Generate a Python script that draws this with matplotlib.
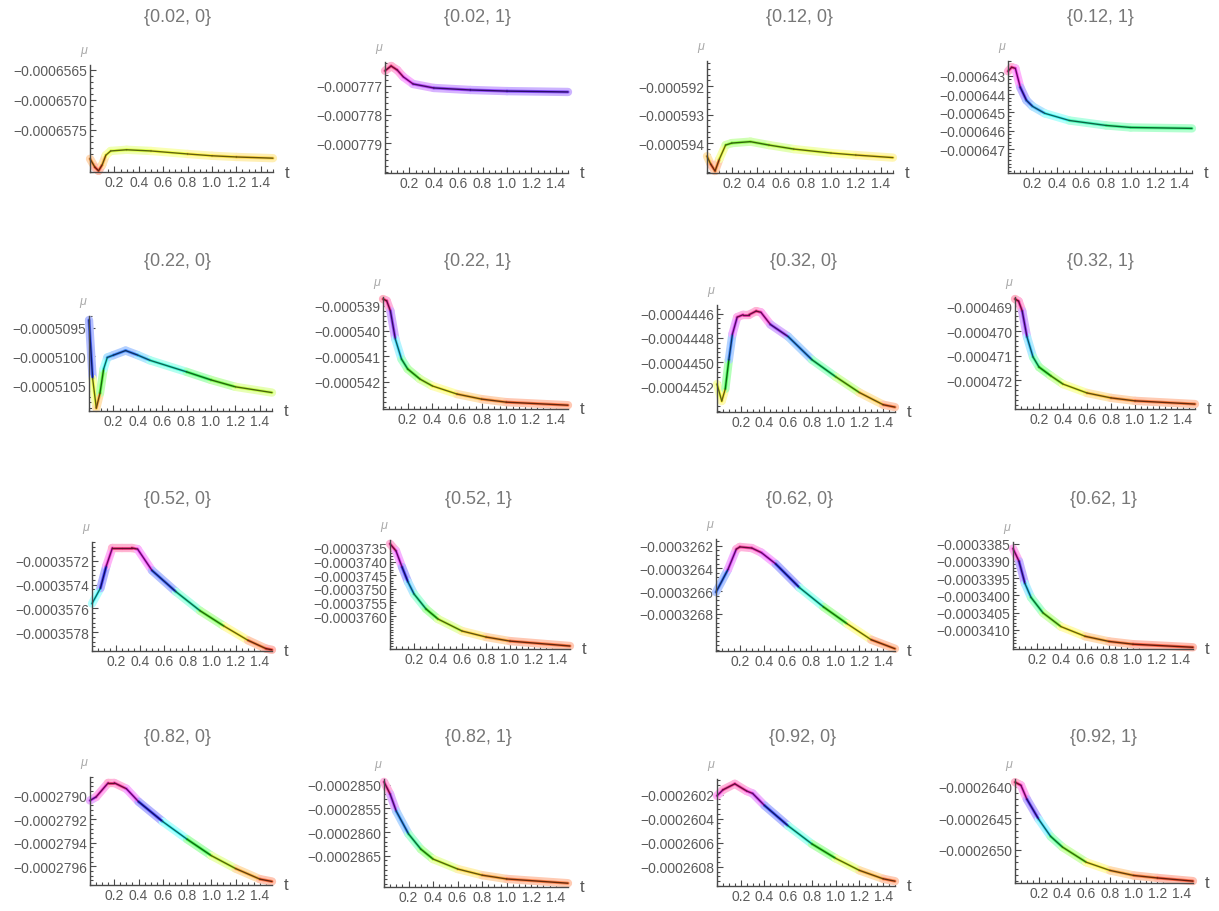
import numpy as np
import matplotlib
matplotlib.use("Agg")
import matplotlib.pyplot as plt
from matplotlib.collections import LineCollection
from matplotlib.ticker import FixedLocator, FixedFormatter, MultipleLocator
from matplotlib.colors import Normalize

plt.rcParams['font.family'] = ['Liberation Sans', 'DejaVu Sans']

# ---------------- data ----------------
titles = ["{0.02, 0}", "{0.02, 1}", "{0.12, 0}", "{0.12, 1}",
          "{0.22, 0}", "{0.22, 1}", "{0.32, 0}", "{0.32, 1}",
          "{0.52, 0}", "{0.52, 1}", "{0.62, 0}", "{0.62, 1}",
          "{0.82, 0}", "{0.82, 1}", "{0.92, 0}", "{0.92, 1}"]

t_a = [0, 0.04, 0.07, 0.1, 0.13, 0.17, 0.3, 0.5, 0.8, 1.0, 1.2, 1.5]
mu_a = [-0.00065798, -0.00065812, -0.00065818, -0.00065808, -0.00065792, -0.00065785,
        -0.00065783, -0.00065785, -0.0006579, -0.00065793, -0.00065795, -0.00065797]

t_b = [0, 0.05, 0.1, 0.15, 0.23, 0.4, 0.7, 1.0, 1.5]
mu_b = [-0.00077647, -0.0007763, -0.00077644, -0.00077668, -0.00077693, -0.00077707,
        -0.00077714, -0.00077718, -0.00077721]

t_c = [0, 0.03, 0.065, 0.1, 0.15, 0.2, 0.35, 0.5, 0.7, 1.0, 1.2, 1.5]
mu_c = [-0.00059446, -0.00059474, -0.00059498, -0.00059456, -0.00059407, -0.000594,
        -0.00059395, -0.00059407, -0.00059421, -0.00059435, -0.00059442, -0.00059451]

t_d = [0, 0.03, 0.06, 0.1, 0.15, 0.2, 0.3, 0.5, 0.8, 1.0, 1.5]
mu_d = [-0.00064276, -0.00064254, -0.0006426, -0.00064363, -0.00064434, -0.00064467,
        -0.00064505, -0.00064544, -0.00064571, -0.00064582, -0.00064587]

t_e = [0, 0.03, 0.06, 0.09, 0.12, 0.15, 0.2, 0.3, 0.4, 0.5, 0.8, 1.0, 1.2, 1.5]
mu_e = [-0.00050937, -0.00051039, -0.0005109, -0.00051064, -0.00051022, -0.00051002,
        -0.00050998, -0.0005099, -0.00050998, -0.00051007, -0.00051027, -0.00051041,
        -0.00051053, -0.00051063]

t_f = [0, 0.03, 0.06, 0.1, 0.15, 0.2, 0.3, 0.4, 0.6, 0.8, 1.0, 1.5]
mu_f = [-0.00053874, -0.00053881, -0.00053921, -0.00054032, -0.00054111, -0.0005415,
        -0.0005419, -0.00054217, -0.00054249, -0.00054269, -0.00054281, -0.00054293]

t_g = [0, 0.04, 0.07, 0.1, 0.13, 0.17, 0.22, 0.27, 0.33, 0.37, 0.45, 0.6, 0.8, 1.0,
       1.2, 1.4, 1.5]
mu_g = [-0.00044518, -0.00044532, -0.00044522, -0.00044498, -0.00044477, -0.00044463,
        -0.00044461, -0.00044461, -0.00044458, -0.00044459, -0.00044469, -0.00044479,
        -0.00044498, -0.00044512, -0.00044525, -0.00044535, -0.00044537]

t_h = [0, 0.03, 0.06, 0.1, 0.15, 0.2, 0.3, 0.4, 0.6, 0.8, 1.0, 1.5]
mu_h = [-0.0004687, -0.00046879, -0.00046919, -0.00047024, -0.00047105, -0.00047146,
        -0.00047182, -0.00047215, -0.00047251, -0.00047271, -0.00047283, -0.00047296]

t_i = [0, 0.07, 0.12, 0.17, 0.25, 0.33, 0.38, 0.5, 0.7, 0.9, 1.1, 1.3, 1.45, 1.5]
mu_i = [-0.00035756, -0.00035743, -0.00035724, -0.00035709, -0.00035709, -0.00035709,
        -0.0003571, -0.00035728, -0.00035746, -0.00035762, -0.00035775, -0.00035787,
        -0.00035794, -0.00035795]

t_j = [0, 0.05, 0.1, 0.15, 0.2, 0.3, 0.4, 0.6, 0.8, 1.0, 1.5]
mu_j = [-0.00037335, -0.00037361, -0.0003742, -0.00037475, -0.00037519, -0.00037574,
        -0.00037611, -0.00037655, -0.00037677, -0.00037692, -0.0003771]

t_k = [0, 0.1, 0.17, 0.2, 0.3, 0.38, 0.5, 0.7, 0.9, 1.1, 1.3, 1.5]
mu_k = [-0.00032661, -0.00032641, -0.00032623, -0.00032621, -0.00032622, -0.00032626,
        -0.00032636, -0.00032657, -0.00032674, -0.00032689, -0.00032703, -0.00032711]

t_l = [0, 0.05, 0.1, 0.15, 0.25, 0.4, 0.6, 0.8, 1.0, 1.5]
mu_l = [-0.00033864, -0.00033901, -0.00033966, -0.00034006, -0.00034051, -0.00034091,
        -0.00034119, -0.00034134, -0.00034142, -0.00034151]

t_m = [0, 0.05, 0.15, 0.2, 0.3, 0.4, 0.6, 0.8, 1.0, 1.2, 1.4, 1.5]
mu_m = [-0.00027904, -0.00027901, -0.00027889, -0.00027889, -0.00027894, -0.00027905,
        -0.00027922, -0.00027937, -0.00027951, -0.00027962, -0.00027971, -0.00027973]

t_n = [0, 0.05, 0.1, 0.2, 0.3, 0.4, 0.6, 0.8, 1.0, 1.5]
mu_n = [-0.00028494, -0.0002852, -0.00028556, -0.00028604, -0.00028636, -0.00028657,
        -0.00028678, -0.00028691, -0.00028699, -0.00028708]

t_o = [0, 0.05, 0.15, 0.25, 0.3, 0.4, 0.6, 0.8, 1.0, 1.2, 1.4, 1.5]
mu_o = [-0.00026021, -0.00026016, -0.00026011, -0.00026017, -0.00026019, -0.00026029,
        -0.00026046, -0.00026061, -0.00026073, -0.00026083, -0.0002609, -0.00026092]

t_p = [0, 0.05, 0.1, 0.2, 0.3, 0.4, 0.6, 0.8, 1.0, 1.2, 1.5]
mu_p = [-0.00026393, -0.00026398, -0.0002642, -0.00026452, -0.00026479, -0.00026496,
        -0.0002652, -0.00026533, -0.00026541, -0.00026545, -0.0002655]

t_series = [t_a, t_b, t_c, t_d, t_e, t_f, t_g, t_h, t_i, t_j, t_k, t_l, t_m, t_n, t_o, t_p]
mu_series = [mu_a, mu_b, mu_c, mu_d, mu_e, mu_f, mu_g, mu_h, mu_i, mu_j, mu_k, mu_l,
             mu_m, mu_n, mu_o, mu_p]

# y ranges of each plot
ylims = [(-0.0006582, -0.00065642), (-0.00078005, -0.00077616),
         (-0.00059505, -0.00059112), (-0.0006483, -0.0006422),
         (-0.00051095, -0.0005093), (-0.00054308, -0.00053866),
         (-0.00044541, -0.00044453), (-0.00047316, -0.00046862),
         (-0.00035796, -0.00035704), (-0.00037721, -0.00037321),
         (-0.00032713, -0.00032614), (-0.00034156, -0.00033845),
         (-0.00027976, -0.00027884), (-0.00028716, -0.00028488),
         (-0.00026096, -0.00026007), (-0.00026553, -0.00026388)]

# y tick values and decimals
ytick_vals = [
    [-0.0006565, -0.000657, -0.0006575],
    [-0.000777, -0.000778, -0.000779],
    [-0.000592, -0.000593, -0.000594],
    [-0.000643, -0.000644, -0.000645, -0.000646, -0.000647],
    [-0.0005095, -0.00051, -0.0005105],
    [-0.000539, -0.00054, -0.000541, -0.000542],
    [-0.0004446, -0.0004448, -0.000445, -0.0004452],
    [-0.000469, -0.00047, -0.000471, -0.000472],
    [-0.0003572, -0.0003574, -0.0003576, -0.0003578],
    [-0.0003735, -0.000374, -0.0003745, -0.000375, -0.0003755, -0.000376],
    [-0.0003262, -0.0003264, -0.0003266, -0.0003268],
    [-0.0003385, -0.000339, -0.0003395, -0.00034, -0.0003405, -0.000341],
    [-0.000279, -0.0002792, -0.0002794, -0.0002796],
    [-0.000285, -0.0002855, -0.000286, -0.0002865],
    [-0.0002602, -0.0002604, -0.0002606, -0.0002608],
    [-0.000264, -0.0002645, -0.000265],
]
ytick_dec = [7, 6, 6, 6, 7, 6, 7, 6, 7, 7, 7, 7, 7, 7, 7, 7]
xtick_vals = [0.2, 0.4, 0.6, 0.8, 1.0, 1.2, 1.4]
xtick_labels = ["0.2", "0.4", "0.6", "0.8", "1.0", "1.2", "1.4"]

# ---------------- layout (pixels: left, right, bottom, top) ----------------
W, H = 1219, 912
boxes = [(90, 273, 173, 66), (385, 568, 174, 63), (707, 893, 174, 62), (1008, 1192, 174, 62),
         (89, 272, 412, 317), (383, 568, 410, 298), (717, 895, 413, 306), (1015, 1195, 410, 298),
         (92, 272, 652, 543), (390, 570, 650, 541), (716, 895, 652, 540), (1013, 1193, 650, 543),
         (90, 272, 886, 778), (384, 568, 888, 780), (717, 895, 887, 780), (1015, 1193, 884, 780)]
title_x = [178, 477, 800, 1100, 178, 477, 803, 1100, 178, 478, 800, 1103, 178, 478, 803, 1103]
title_y = [18, 18, 18, 18, 262, 262, 262, 262, 500, 500, 500, 500, 738, 738, 738, 738]

fig = plt.figure(figsize=(W / 100, H / 100), dpi=100)
fig.patch.set_facecolor('white')

AX = '#4a4a4a'
LBL = '#5a5a5a'
cmap = plt.get_cmap('hsv')

for i in range(16):
    L, R, B, T = boxes[i]
    ax = fig.add_axes([L / W, 1 - B / H, (R - L) / W, (B - T) / H])
    ax.set_xlim(0, 1.5)
    ax.set_ylim(*ylims[i])
    for s in ('top', 'right'):
        ax.spines[s].set_visible(False)
    for s in ('left', 'bottom'):
        ax.spines[s].set_color(AX)
        ax.spines[s].set_linewidth(1.0)

    t = np.asarray(t_series[i], dtype=float)
    mu = np.asarray(mu_series[i], dtype=float)
    pts = np.column_stack([t, mu]).reshape(-1, 1, 2)
    segs = np.concatenate([pts[:-1], pts[1:]], axis=1)
    norm = Normalize(vmin=ylims[i][0], vmax=ylims[i][1])
    mids = 0.5 * (mu[:-1] + mu[1:])
    cols = cmap(norm(mids))
    light = cols.copy()
    light[:, :3] = 0.3 * cols[:, :3] + 0.7
    soft = cols.copy()
    soft[:, :3] = 0.7 * cols[:, :3] + 0.3
    dark = cols.copy()
    dark[:, :3] = 0.35 * cols[:, :3] + 0.05
    halo = LineCollection(segs, colors=light, linewidths=6.0,
                          capstyle='round', joinstyle='round', clip_on=False)
    mid = LineCollection(segs, colors=soft, linewidths=2.2,
                         capstyle='round', joinstyle='round', clip_on=False)
    core = LineCollection(segs, colors=dark, linewidths=1.0,
                          capstyle='round', joinstyle='round', clip_on=False)
    ax.add_collection(halo)
    ax.add_collection(mid)
    ax.add_collection(core)

    yv = ytick_vals[i]
    d = ytick_dec[i]
    ax.yaxis.set_major_locator(FixedLocator(yv))
    ax.yaxis.set_major_formatter(FixedFormatter(["\u2212" + f"{abs(v):.{d}f}" for v in yv]))
    step = abs(yv[0] - yv[1])
    ax.yaxis.set_minor_locator(MultipleLocator(step / 5))
    ax.xaxis.set_major_locator(FixedLocator(xtick_vals))
    ax.xaxis.set_major_formatter(FixedFormatter(xtick_labels))
    ax.xaxis.set_minor_locator(MultipleLocator(0.05))
    ax.tick_params(which='both', direction='in', color=AX, width=0.8,
                   labelcolor=LBL, labelsize=10, pad=2)
    ax.tick_params(which='major', length=4)
    ax.tick_params(which='minor', length=2)
    ax.patch.set_alpha(0)

    fig.text(title_x[i] / W, 1 - title_y[i] / H, titles[i], ha='center', va='center',
             fontsize=13, color='#777777')
    fig.text((L - 6) / W, 1 - (T - 15) / H, "\u03bc", ha='center', va='center',
             fontsize=9, color='#aaaaaa', style='italic')
    fig.text((R + 14) / W, 1 - B / H, "t", ha='center', va='center',
             fontsize=12, color='#555555')

fig.savefig('out.png', dpi=100, facecolor='white')
